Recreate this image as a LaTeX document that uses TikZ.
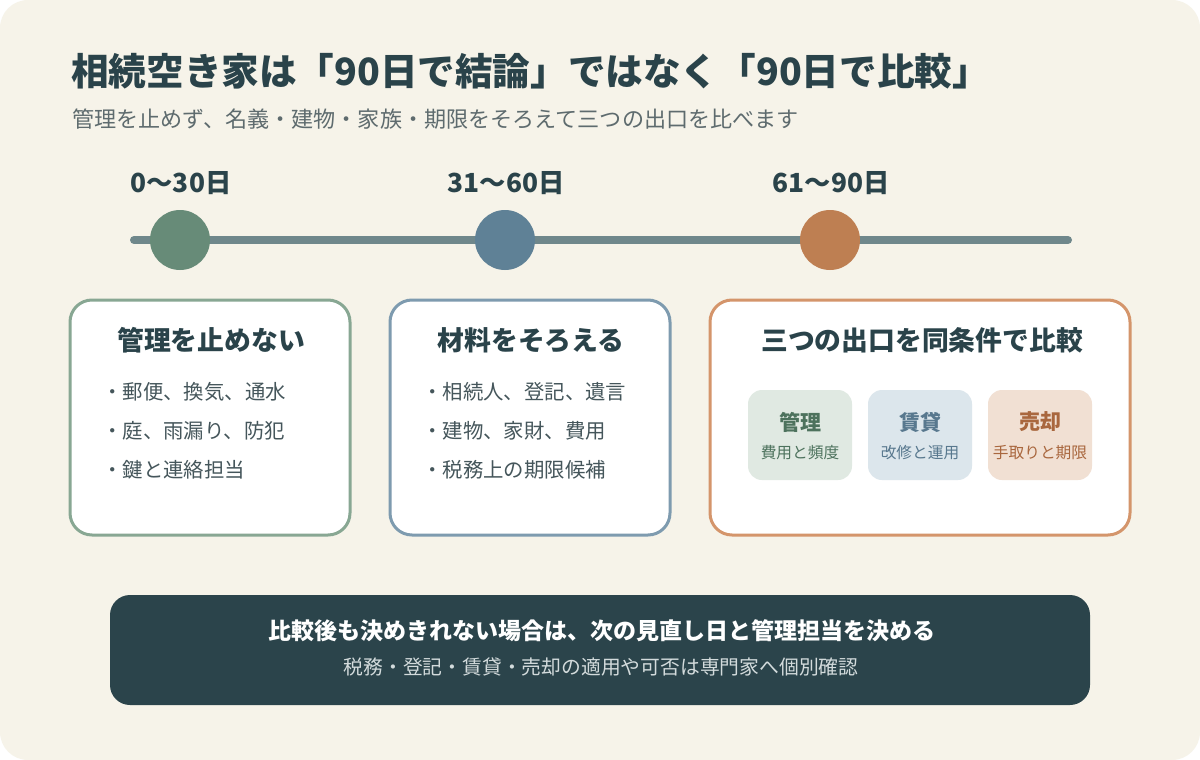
\documentclass[tikz,border=0pt]{standalone}
\usepackage{fontspec}
\setmainfont{Noto Sans CJK JP}
\usetikzlibrary{positioning}

\definecolor{bgcream}{HTML}{F6F3E9}
\definecolor{ink}{HTML}{2A434A}
\definecolor{subgray}{HTML}{5E6B6E}
\definecolor{bodygray}{HTML}{45565B}
\definecolor{tlgray}{HTML}{6F878B}
\definecolor{dotgreen}{HTML}{678B78}
\definecolor{dotblue}{HTML}{5F8196}
\definecolor{dotorange}{HTML}{BE7F52}
\definecolor{edgegreen}{HTML}{88A793}
\definecolor{edgeblue}{HTML}{7E9BAF}
\definecolor{edgeorange}{HTML}{D4956B}
\definecolor{tintgreen}{HTML}{E0E9E2}
\definecolor{tintblue}{HTML}{DCE6EC}
\definecolor{tintorange}{HTML}{F1E0D3}
\definecolor{deepgreen}{HTML}{4D725D}
\definecolor{deepblue}{HTML}{58788E}
\definecolor{deeporange}{HTML}{A9673E}
\definecolor{panel}{HTML}{2B444B}
\definecolor{panelsoft}{HTML}{D3DBDC}

\begin{document}
\begin{tikzpicture}[x=1pt, y=-1pt,
    every node/.style={inner sep=0pt, text=ink},
    daylbl/.style={font=\fontsize{26.3}{29}\selectfont\bfseries},
    card/.style={draw, line width=3pt, fill=white, rounded corners=22pt,
      minimum height=235pt},
    cardtitle/.style={font=\fontsize{26.8}{30}\selectfont\bfseries},
    bullet/.style={anchor=west, text=bodygray, font=\fontsize{20.4}{24}\selectfont},
    exitbox/.style={rounded corners=14pt, minimum width=104pt, minimum height=90pt},
    exithead/.style={font=\fontsize{21}{24}\selectfont\bfseries},
    exitnote/.style={font=\fontsize{15.7}{18}\selectfont}]

    % --- fundo ---
    \useasboundingbox (0,0) rectangle (1200,760);
    \fill[white] (0,0) rectangle (1200,760);
    \fill[bgcream, rounded corners=28pt] (0,0) rectangle (1200,760);

    % --- titulo ---
    \node[anchor=west, font=\fontsize{37.6}{41}\selectfont\bfseries] (title) at (71,71)
      {相続空き家は「90日で結論」ではなく「90日で比較」};
    \node[anchor=west, text=subgray, font=\fontsize{22.1}{25}\selectfont] (subtitle) at (72,119)
      {管理を止めず、名義・建物・家族・期限をそろえて三つの出口を比べます};

    % --- linha do tempo ---
    \coordinate (tlstart) at (134,240);
    \coordinate (tlend) at (1068,240);
    \draw[line width=8pt, line cap=round, tlgray] (tlstart) -- (tlend);
    \foreach \n/\x/\c/\lbl in {stepA/180/dotgreen/0〜30日,
                               stepB/505/dotblue/31〜60日,
                               stepC/830/dotorange/61〜90日} {
      \node[circle, fill=\c, minimum size=60pt] (\n) at (\x,240) {};
      \node[daylbl] (\n lbl) at (\x+1,183) {\lbl};
    }

    % --- cartoes ---
    \node[card, draw=edgegreen, minimum width=280pt] (keep) at (210,417.5) {};
    \node[card, draw=edgeblue, minimum width=280pt] (gather) at (530,417.5) {};
    \node[card, draw=edgeorange, minimum width=420pt] (exits) at (920,417.5) {};

    \node[cardtitle] (keeptitle) at (211,340) {管理を止めない};
    \node[cardtitle] (gathertitle) at (531,340) {材料をそろえる};
    \node[cardtitle] (exitstitle) at (922,340) {三つの出口を同条件で比較};

    \foreach \t [count=\i] in {郵便、換気、通水, 庭、雨漏り、防犯, 鍵と連絡担当}
      \node[bullet] (keep\i) at (102,{392+39*(\i-1)}) {・\t};
    \foreach \t [count=\i] in {相続人、登記、遺言, 建物、家財、費用, 税務上の期限候補}
      \node[bullet] (gather\i) at (422,{392+39*(\i-1)}) {・\t};

    % --- tres saidas ---
    \foreach \n/\x/\tint/\deep/\head/\note in {
        manage/800/tintgreen/deepgreen/管理/費用と頻度,
        rent/920/tintblue/deepblue/賃貸/改修と運用,
        sell/1040/tintorange/deeporange/売却/手取りと期限} {
      \node[exitbox, fill=\tint] (\n) at (\x,435) {};
      \node[exithead, text=\deep] (\n head) at (\x,422) {\head};
      \node[exitnote, text=\deep] (\n note) at (\x,453) {\note};
    }

    % --- nota final ---
    \node[fill=panel, rounded corners=20pt, minimum width=980pt, minimum height=110pt]
      (notebox) at (600,650) {};
    \node[text=white, font=\fontsize{23}{27}\selectfont\bfseries] (noteA) at (602,631)
      {比較後も決めきれない場合は、次の見直し日と管理担当を決める};
    \node[text=panelsoft, font=\fontsize{19.8}{24}\selectfont] (noteB) at (601,667)
      {税務・登記・賃貸・売却の適用や可否は専門家へ個別確認};
\end{tikzpicture}
\end{document}
